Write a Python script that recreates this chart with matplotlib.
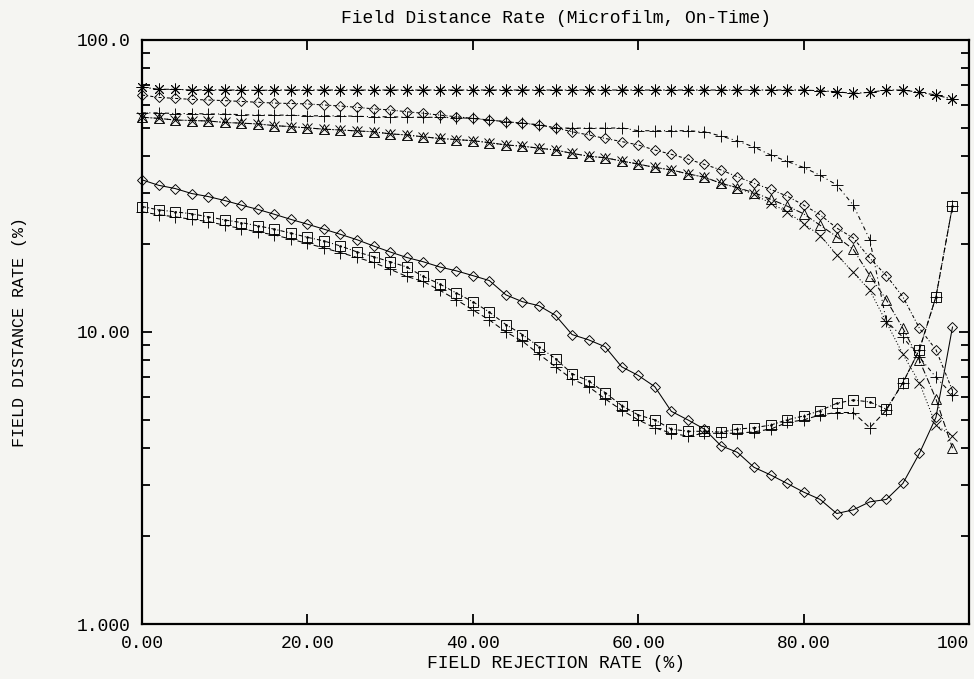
import numpy as np
import matplotlib
matplotlib.use("Agg")
import matplotlib.pyplot as plt
from matplotlib.ticker import FixedLocator, FixedFormatter, NullFormatter

plt.rcParams['font.family'] = ['Liberation Mono', 'DejaVu Sans Mono']

# field rejection rate (%) at which each run was sampled
rejection = [0, 2, 4, 6, 8, 10, 12, 14, 16, 18,
             20, 22, 24, 26, 28, 30, 32, 34, 36, 38,
             40, 42, 44, 46, 48, 50, 52, 54, 56, 58,
             60, 62, 64, 66, 68, 70, 72, 74, 76, 78,
             80, 82, 84, 86, 88, 90, 92, 94, 96, 98]

# field distance rate (%) per run
run_star = [69.0, 67.8, 67.8, 67.4, 67.6, 67.4, 67.4, 67.2, 67.4, 67.4,
            67.4, 67.4, 67.4, 67.4, 67.4, 67.4, 67.4, 67.4, 67.4, 67.4,
            67.4, 67.4, 67.4, 67.4, 67.4, 67.4, 67.4, 67.4, 67.4, 67.4,
            67.4, 67.4, 67.4, 67.4, 67.4, 67.4, 67.4, 67.4, 67.4, 67.4,
            67.4, 67.0, 66.5, 65.6, 66.2, 67.4, 67.4, 66.2, 64.8, 62.7]
run_diamond_hi = [64.8, 63.6, 63.1, 62.6, 62.3, 62.0, 61.6, 61.2, 60.8, 60.6,
                  60.4, 59.9, 59.4, 58.8, 58.1, 57.6, 56.8, 56.1, 55.3, 54.6,
                  53.9, 53.2, 52.5, 51.9, 51.2, 50.0, 48.5, 47.3, 46.0, 44.9,
                  43.7, 42.0, 40.6, 39.1, 37.5, 35.9, 34.0, 32.3, 30.8, 29.2,
                  27.2, 25.2, 22.7, 21.0, 17.9, 15.6, 13.2, 10.3, 8.7, 6.3]
run_plus_hi = [56.3, 56.3, 56.0, 56.0, 55.8, 55.8, 55.5, 55.3, 55.3, 55.3,
               55.0, 55.0, 55.0, 54.8, 54.6, 54.6, 54.4, 54.4, 54.3, 54.2,
               53.9, 53.2, 52.5, 51.9, 51.2, 50.0, 49.9, 49.9, 49.9, 50.0,
               48.9, 48.9, 48.9, 48.9, 48.5, 46.9, 45.1, 43.0, 40.4, 38.4,
               36.6, 34.4, 31.9, 27.2, 20.7, 10.9, 9.6, 8.2, 7.0, 6.1]
run_triangle = [54.4, 53.9, 53.2, 53.0, 52.8, 52.2, 51.9, 51.6, 50.9, 50.5,
                50.0, 49.5, 49.2, 48.8, 48.5, 47.7, 47.3, 46.6, 46.0, 45.6,
                45.2, 44.5, 43.7, 43.3, 42.6, 42.0, 40.9, 40.0, 39.5, 38.5,
                37.6, 36.6, 35.9, 34.8, 33.9, 32.3, 31.2, 30.0, 28.5, 27.0,
                25.4, 23.2, 21.2, 19.2, 15.6, 12.9, 10.3, 8.0, 5.9, 4.0]
run_cross = [54.4, 53.9, 53.2, 53.0, 52.8, 52.2, 51.9, 51.6, 50.9, 50.5,
             50.0, 49.5, 49.2, 48.8, 48.5, 47.7, 47.3, 46.6, 46.0, 45.6,
             45.2, 44.5, 43.7, 43.3, 42.6, 42.0, 40.9, 40.0, 39.5, 38.5,
             37.6, 36.6, 35.9, 34.8, 33.9, 32.3, 31.2, 29.6, 27.6, 25.8,
             23.5, 21.4, 18.4, 16.0, 13.9, 10.8, 8.4, 6.7, 4.8, 4.4]
run_diamond_lo = [33.2, 31.8, 31.0, 29.8, 29.1, 28.2, 27.2, 26.3, 25.3, 24.3,
                  23.4, 22.5, 21.6, 20.7, 19.7, 18.8, 18.0, 17.4, 16.7, 16.2,
                  15.6, 15.0, 13.4, 12.7, 12.3, 11.4, 9.8, 9.4, 8.9, 7.6,
                  7.1, 6.5, 5.35, 5.0, 4.65, 4.08, 3.87, 3.44, 3.24, 3.03,
                  2.83, 2.67, 2.39, 2.46, 2.62, 2.67, 3.03, 3.84, 5.1, 10.4]
run_square = [26.9, 26.2, 25.8, 25.4, 24.8, 24.2, 23.7, 23.1, 22.5, 21.8,
              21.1, 20.5, 19.7, 18.8, 18.1, 17.4, 16.7, 15.5, 14.6, 13.6,
              12.7, 11.7, 10.6, 9.8, 8.9, 8.1, 7.2, 6.8, 6.2, 5.6,
              5.2, 5.0, 4.65, 4.57, 4.57, 4.54, 4.65, 4.7, 4.8, 5.0,
              5.16, 5.38, 5.7, 5.85, 5.76, 5.44, 6.7, 8.7, 13.2, 27.0]
run_plus_lo = [25.8, 25.2, 24.8, 24.3, 23.9, 23.2, 22.6, 22.0, 21.5, 20.8,
               20.1, 19.4, 18.7, 18.0, 17.3, 16.4, 15.5, 14.9, 13.9, 12.9,
               11.9, 11.0, 10.0, 9.3, 8.4, 7.6, 6.9, 6.5, 5.9, 5.4,
               5.0, 4.7, 4.5, 4.4, 4.5, 4.5, 4.5, 4.55, 4.65, 4.9,
               5.0, 5.2, 5.3, 5.3, 4.7, 5.4, 6.7, 8.7, 13.2, 27.0]

x_ticks = [0, 20, 40, 60, 80, 100]
x_labels = ['0.00', '20.00', '40.00', '60.00', '80.00', '100']
y_ticks = [1, 10, 100]
y_labels = ['1.000', '10.00', '100.0']

paper = '#f5f5f2'
fig = plt.figure(figsize=(9.74, 6.79), dpi=100, facecolor=paper)
ax = fig.add_axes([0.1458, 0.0810, 0.8491, 0.8601])
ax.set_facecolor(paper)
ax.set_yscale('log')
ax.set_xlim(0, 100)
ax.set_ylim(1, 100)


def curve(y, marker, ls, ms):
    ax.plot(rejection, y, color='k', lw=0.75, linestyle=ls, marker=marker,
            ms=ms, mfc='none', mec='k', mew=0.65, clip_on=False)


curve(run_star, (8, 2, 0), (0, (5, 2, 1.5, 2)), 8.5)
curve(run_diamond_hi, 'D', (0, (3, 2, 1, 2)), 5.5)
curve(run_plus_hi, '+', (0, (4, 3, 1, 3)), 8)
curve(run_triangle, '^', (0, (6, 2, 1, 2)), 6.5)
curve(run_cross, 'x', (0, (1, 2)), 7)
curve(run_diamond_lo, 'D', '-', 5.5)
curve(run_square, 's', (0, (4, 2, 1, 2)), 6.5)
ax.plot(rejection, run_square, ls='none', marker='.', ms=1.8, color='k', clip_on=False)
curve(run_plus_lo, '+', (0, (5, 3)), 8)

for s in ax.spines.values():
    s.set_linewidth(1.6)

ax.xaxis.set_major_locator(FixedLocator(x_ticks))
ax.xaxis.set_major_formatter(FixedFormatter(x_labels))
ax.yaxis.set_major_locator(FixedLocator(y_ticks))
ax.yaxis.set_major_formatter(FixedFormatter(y_labels))
ax.yaxis.set_minor_locator(FixedLocator([2, 3, 4, 5, 6, 7, 8, 9, 20, 30, 40, 50, 60, 70, 80, 90]))
ax.yaxis.set_minor_formatter(NullFormatter())
ax.tick_params(which='both', direction='in', top=True, right=True, width=1.3, colors='k')
ax.tick_params(which='major', length=7, labelsize=13, pad=8)
ax.tick_params(which='minor', length=6)

# the last x label sits against the right edge of the sheet
fig.canvas.draw()
ax.get_xticklabels()[-1].set_horizontalalignment('right')

ax.set_title('Field Distance Rate (Microfilm, On-Time)', fontsize=13, pad=12)
ax.set_xlabel('FIELD REJECTION RATE (%)', fontsize=13, labelpad=2)
ax.set_ylabel('FIELD DISTANCE RATE (%)', fontsize=12, labelpad=36)

fig.savefig('out.png', dpi=100, facecolor=paper)
